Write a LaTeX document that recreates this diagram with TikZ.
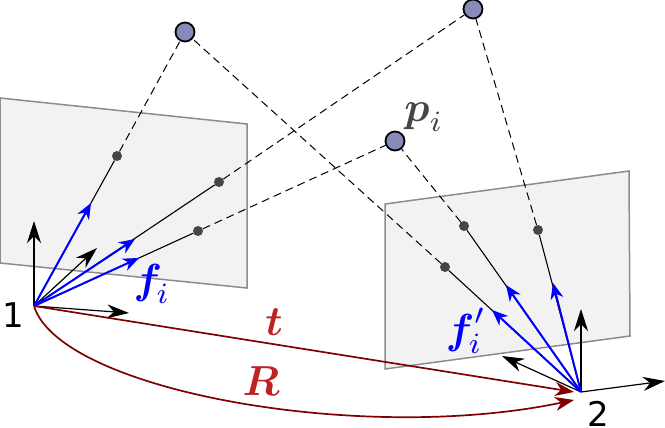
\documentclass[tikz,border=0pt]{standalone}
\usepackage{amsmath}
\usepackage{graphicx}
\usepackage{fontspec}
\setsansfont{DejaVu Sans}
\usetikzlibrary{arrows.meta}
\definecolor{planefill}{RGB}{242,242,242}
\definecolor{planeedge}{RGB}{140,140,140}
\definecolor{pointfill}{RGB}{136,138,188}
\definecolor{projgray}{RGB}{70,70,70}
\definecolor{motionred}{RGB}{128,0,0}
\definecolor{labelred}{RGB}{190,35,35}
\newcommand{\biglab}[1]{\scalebox{4.2}{$#1$}}
\tikzset{
  plane/.style={fill=planefill, draw=planeedge, line width=1.5pt},
  worldpoint/.style={circle, draw=black, fill=pointfill, line width=1.8pt, minimum size=19pt, inner sep=0pt},
  imagepoint/.style={circle, fill=projgray, minimum size=10pt, inner sep=0pt},
  origin/.style={inner sep=0pt, minimum size=0pt},
  axis/.style={line width=1.2pt, -{Stealth[length=22pt, width=14pt, inset=7pt]}},
  bearing/.style={blue, line width=2pt, -{Stealth[length=16pt, width=13pt, inset=5pt]}},
  motion/.style={motionred, line width=1.7pt, -{Stealth[length=19pt, width=14pt, inset=6pt]}},
  ray/.style={black, line width=1.1pt},
  backray/.style={black, line width=1pt, dash pattern=on 8pt off 5pt},
  numlabel/.style={font=\sffamily\fontsize{34}{34}\selectfont, inner sep=0pt}
}
\begin{document}
\begin{tikzpicture}[x=1pt, y=-1pt]
  \useasboundingbox (0,0) rectangle (665,428);
  % image planes
  \filldraw[plane] (0,98) -- (247,124) -- (247,288) -- (0,263) -- cycle;
  \filldraw[plane] (385,204) -- (629,171) -- (630,336) -- (385,369) -- cycle;
  % camera centres
  \node[origin] (cam1) at (34,306) {};
  \node[origin] (cam2) at (581,392) {};
  % scene points
  \node[worldpoint] (p1) at (185,32) {};
  \node[worldpoint] (p2) at (473,9) {};
  \node[worldpoint] (p3) at (395,141) {};
  % projections, first view
  \node[imagepoint] (q1) at (117,156) {};
  \node[imagepoint] (q2) at (219,182) {};
  \node[imagepoint] (q3) at (198,231) {};
  % projections, second view
  \node[imagepoint] (r1) at (445,267) {};
  \node[imagepoint] (r2) at (538,230) {};
  \node[imagepoint] (r3) at (464,226) {};
  % dashed back projections
  \draw[backray] (q1) -- (p1);
  \draw[backray] (q2) -- (p2);
  \draw[backray] (q3) -- (p3);
  \draw[backray] (r1) -- (p1);
  \draw[backray] (r2) -- (p2);
  \draw[backray] (r3) -- (p3);
  % solid rays
  \draw[ray] (cam1) -- (q1);
  \draw[ray] (cam1) -- (q2);
  \draw[ray] (cam1) -- (q3);
  \draw[ray] (cam2) -- (r1);
  \draw[ray] (cam2) -- (r2);
  \draw[ray] (cam2) -- (r3);
  % axes
  \coordinate (x1) at (129,313);
  \coordinate (y1) at (97,248);
  \coordinate (z1) at (34,221);
  \coordinate (x2) at (665,381);
  \coordinate (y2) at (502,356);
  \coordinate (z2) at (581,309);
  \draw[axis] (cam1) -- (x1);
  \draw[axis] (cam1) -- (y1);
  \draw[axis] (cam1) -- (z1);
  \draw[axis] (cam2) -- (x2);
  \draw[axis] (cam2) -- (y2);
  \draw[axis] (cam2) -- (z2);
  % bearing vectors
  \coordinate (f1) at (91,203);
  \coordinate (f2) at (135,239);
  \coordinate (f3) at (139,258);
  \coordinate (g1) at (492,310);
  \coordinate (g2) at (553,283);
  \coordinate (g3) at (506,285);
  \draw[bearing] (cam1) -- (f1);
  \draw[bearing] (cam1) -- (f2);
  \draw[bearing] (cam1) -- (f3);
  \draw[bearing] (cam2) -- (g1);
  \draw[bearing] (cam2) -- (g2);
  \draw[bearing] (cam2) -- (g3);
  % relative motion
  \coordinate (tEnd) at (574,392);
  \coordinate (rEnd) at (574,400);
  \draw[motion] (cam1) -- (tEnd);
  \draw[motion] (cam1) .. controls (60,390) and (360,445) .. (rEnd);
  % labels
  \node[blue] (fLabel) at (152,284) {\biglab{\boldsymbol{f}_{\!i}}};
  \node[blue] (gLabel) at (466,331) {\biglab{\boldsymbol{f}'_{\!i}}};
  \node[projgray] (pLabel) at (424,117) {\biglab{\boldsymbol{p}_{i}}};
  \node[labelred] (tLabel) at (274,322) {\biglab{\boldsymbol{t}}};
  \node[labelred] (rLabel) at (261,381) {\biglab{\boldsymbol{R}}};
  \node[numlabel] (oneLabel) at (13,315) {1};
  \node[numlabel] (twoLabel) at (598,414) {2};
\end{tikzpicture}
\end{document}
